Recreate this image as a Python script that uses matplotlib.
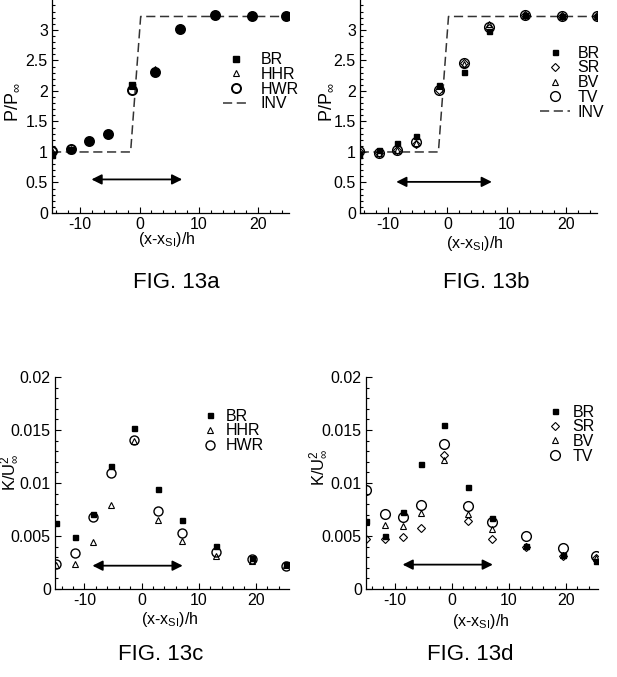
import matplotlib
matplotlib.use('Agg')
import matplotlib.pyplot as plt
from matplotlib.ticker import MultipleLocator, FormatStrFormatter

plt.rcParams['font.family'] = ['Liberation Sans', 'DejaVu Sans']
plt.rcParams['mathtext.fontset'] = 'custom'
plt.rcParams['mathtext.rm'] = 'Liberation Sans'
plt.rcParams['mathtext.it'] = 'Liberation Sans'
plt.rcParams['mathtext.bf'] = 'Liberation Sans:bold'
plt.rcParams['axes.unicode_minus'] = False

# ---------------- data ----------------
# FIG. 13a : pressure ratio
x_a = [-14.8, -11.5, -8.45, -5.35, -1.3, 2.65, 6.9, 12.8, 19.0, 24.7]
pa_BR = [0.95, 1.03, 1.18, 1.29, 2.09, 2.31, 3.01, 3.25, 3.23, 3.22]
pa_HHR = [1.02, 1.05, 1.18, 1.29, 2.08, 2.36, 3.05, 3.25, 3.23, 3.22]
pa_HWR = [1.02, 1.05, 1.18, 1.29, 2.02, 2.31, 3.01, 3.25, 3.23, 3.22]

# FIG. 13b : pressure ratio
x_b = [-14.8, -11.5, -8.5, -5.3, -1.4, 2.8, 7.0, 13.0, 19.3, 25.2]
pb_BR = [0.95, 1.03, 1.15, 1.26, 2.10, 2.31, 2.98, 3.24, 3.22, 3.22]
pb_SR = [1.01, 0.98, 1.03, 1.13, 2.02, 2.45, 3.03, 3.24, 3.22, 3.22]
pb_BV = [1.01, 0.98, 1.04, 1.15, 2.08, 2.44, 3.10, 3.24, 3.22, 3.22]
pb_TV = [1.02, 0.98, 1.03, 1.16, 2.02, 2.46, 3.04, 3.24, 3.22, 3.22]

# inviscid solution
inv_x = [-14.75, -1.5, 0.2, 25.0]
inv_y = [1.0, 1.0, 3.22, 3.22]

# FIG. 13c : turbulent kinetic energy
x_c = [-15.0, -11.7, -8.5, -5.3, -1.3, 2.8, 7.0, 13.0, 19.3, 25.3]
kc_BR = [0.0062, 0.0049, 0.0071, 0.0116, 0.0152, 0.0094, 0.0065, 0.0041, 0.0029, 0.0024]
kc_HHR = [0.0023, 0.0024, 0.0044, 0.0079, 0.0140, 0.0065, 0.0045, 0.0031, 0.0026, 0.0023]
kc_HWR = [0.0024, 0.0034, 0.0068, 0.0109, 0.0141, 0.0074, 0.0053, 0.0035, 0.0028, 0.0022]

# FIG. 13d : turbulent kinetic energy
x_d = [-15.0, -11.7, -8.6, -5.3, -1.4, 2.8, 7.0, 13.0, 19.4, 25.3]
kd_BR = [0.0064, 0.0050, 0.0073, 0.0118, 0.0155, 0.0096, 0.0067, 0.0041, 0.0032, 0.0026]
kd_SR = [0.0047, 0.0047, 0.0049, 0.0058, 0.0126, 0.0064, 0.0047, 0.0040, 0.0031, 0.0029]
kd_BV = [0.0063, 0.0060, 0.0059, 0.0072, 0.0122, 0.0071, 0.0057, 0.0041, 0.0032, 0.0029]
kd_TV = [0.0093, 0.0071, 0.0068, 0.0079, 0.0137, 0.0078, 0.0063, 0.0050, 0.0039, 0.0031]

# double arrows (x start, x end, y)
arrow_a = [-8.1, 7.2, 0.55]
arrow_b = [-8.6, 7.5, 0.51]
arrow_c = [-8.6, 7.2, 0.0022]
arrow_d = [-8.6, 7.2, 0.0023]

fig_labels = ['FIG. 13a', 'FIG. 13b', 'FIG. 13c', 'FIG. 13d']
xlabel = r'(x-x$_{\mathregular{SI}}$)/h'

# ---------------- figure ----------------
W, H = 617, 677
fig = plt.figure(figsize=(W / 100, H / 100), dpi=100)


def ax_px(l, r, t, b):
    return fig.add_axes([l / W, 1 - b / H, (r - l) / W, (b - t) / H])


ax_a = ax_px(52, 289, 0, 213)
ax_b = ax_px(360, 597, 0, 213)
ax_c = ax_px(55, 289, 377, 589)
ax_d = ax_px(366, 598, 377, 589)

FS = 11.5


def style(ax, xlim, ylim, ymaj, ymin, fmt):
    ax.set_xlim(*xlim)
    ax.set_ylim(*ylim)
    for s in ['top', 'right']:
        ax.spines[s].set_visible(False)
    for s in ['left', 'bottom']:
        ax.spines[s].set_linewidth(0.9)
    ax.xaxis.set_major_locator(MultipleLocator(10))
    ax.xaxis.set_minor_locator(MultipleLocator(2))
    ax.yaxis.set_major_locator(MultipleLocator(ymaj))
    ax.yaxis.set_minor_locator(MultipleLocator(ymin))
    ax.yaxis.set_major_formatter(FormatStrFormatter(fmt))
    ax.tick_params(which='both', direction='in', labelsize=FS, pad=3, width=0.8)
    ax.tick_params(which='major', length=4.5)
    ax.tick_params(which='minor', length=2.5)
    ax.set_facecolor('none')


def darrow(ax, a):
    ax.annotate('', xy=(a[1], a[2]), xytext=(a[0], a[2]),
                arrowprops=dict(arrowstyle='<|-|>', color='black', lw=1.3,
                                mutation_scale=15, shrinkA=0, shrinkB=0))


sq = dict(marker='s', ls='none', color='black', ms=3.6)
tri = dict(marker='^', ls='none', mfc='none', mec='black', ms=4.5, mew=0.8)
cir = dict(marker='o', ls='none', mfc='none', mec='black', ms=6.5, mew=1.0)
dia = dict(marker='D', ls='none', mfc='none', mec='black', ms=3.8, mew=0.8)
inv = dict(color='#333333', lw=1.1, ls=(0, (6, 3)))

leg_kw = dict(frameon=False, fontsize=FS, labelspacing=-0.02, borderpad=0,
              borderaxespad=0, loc='upper left', handleheight=0.7)

# --- a ---
style(ax_a, (-14.75, 25.2), (0, 3.49), 0.5, 0.1, '%g')
ax_a.plot(inv_x, inv_y, label='INV', **inv)
ax_a.plot(x_a, pa_HWR, label='HWR', **dict(cir, mew=1.4))
ax_a.plot(x_a, pa_HHR, label='HHR', **tri)
ax_a.plot(x_a, pa_BR, label='BR', **dict(sq, ms=4.2))
darrow(ax_a, arrow_a)
h, l = ax_a.get_legend_handles_labels()
order = [3, 2, 1, 0]
ax_a.legend([h[i] for i in order], [l[i] for i in order],
            bbox_to_anchor=(0.72, 0.755), handlelength=1.7, handletextpad=0.7, **leg_kw)
ax_a.set_ylabel(r'P/P$_\infty$', fontsize=13)
ax_a.yaxis.set_label_coords(-0.13, 0.52)
ax_a.set_xlabel(xlabel, fontsize=FS)
ax_a.xaxis.set_label_coords(0.485, -0.08)

# --- b ---
style(ax_b, (-14.7, 25.2), (0, 3.49), 0.5, 0.1, '%g')
ax_b.plot(inv_x, inv_y, label='INV', **inv)
ax_b.plot(x_b, pb_TV, label='TV', **dict(cir, ms=7))
ax_b.plot(x_b, pb_BV, label='BV', **tri)
ax_b.plot(x_b, pb_SR, label='SR', **dia)
ax_b.plot(x_b, pb_BR, label='BR', **sq)
darrow(ax_b, arrow_b)
h, l = ax_b.get_legend_handles_labels()
order = [4, 3, 2, 1, 0]
ax_b.legend([h[i] for i in order], [l[i] for i in order],
            bbox_to_anchor=(0.76, 0.785), handlelength=1.9, handletextpad=0.45, **leg_kw)
ax_b.set_ylabel(r'P/P$_\infty$', fontsize=13)
ax_b.yaxis.set_label_coords(-0.105, 0.52)
ax_b.set_xlabel(xlabel, fontsize=FS)
ax_b.xaxis.set_label_coords(0.485, -0.10)

# --- c ---
style(ax_c, (-15.15, 25.8), (0, 0.02), 0.005, 0.001, '%g')
ax_c.plot(x_c, kc_BR, label='BR', **sq)
ax_c.plot(x_c, kc_HHR, label='HHR', **tri)
ax_c.plot(x_c, kc_HWR, label='HWR', **cir)
darrow(ax_c, arrow_c)
ax_c.legend(bbox_to_anchor=(0.63, 0.85), handlelength=1.0, handletextpad=0.45, **leg_kw)
ax_c.set_ylabel(r'K/U$^2_\infty$', fontsize=12)
ax_c.yaxis.set_label_coords(-0.145, 0.55)
ax_c.set_xlabel(xlabel, fontsize=FS)
ax_c.xaxis.set_label_coords(0.49, -0.10)

# --- d ---
style(ax_d, (-15.0, 25.6), (0, 0.02), 0.005, 0.001, '%g')
ax_d.plot(x_d, kd_BR, label='BR', **sq)
ax_d.plot(x_d, kd_SR, label='SR', **dia)
ax_d.plot(x_d, kd_BV, label='BV', **tri)
ax_d.plot(x_d, kd_TV, label='TV', **dict(cir, ms=7))
darrow(ax_d, arrow_d)
ax_d.legend(bbox_to_anchor=(0.78, 0.87), handlelength=1.0, handletextpad=0.6, **leg_kw)
ax_d.set_ylabel(r'K/U$^2_\infty$', fontsize=12)
ax_d.yaxis.set_label_coords(-0.155, 0.575)
ax_d.set_xlabel(xlabel, fontsize=FS)
ax_d.xaxis.set_label_coords(0.496, -0.11)

# figure captions
for txt, (px, py) in zip(fig_labels, [(176, 283), (486, 283), (161, 655), (470, 655)]):
    fig.text(px / W, 1 - py / H, txt, ha='center', va='center', fontsize=16)

fig.savefig('out.png', dpi=100)
